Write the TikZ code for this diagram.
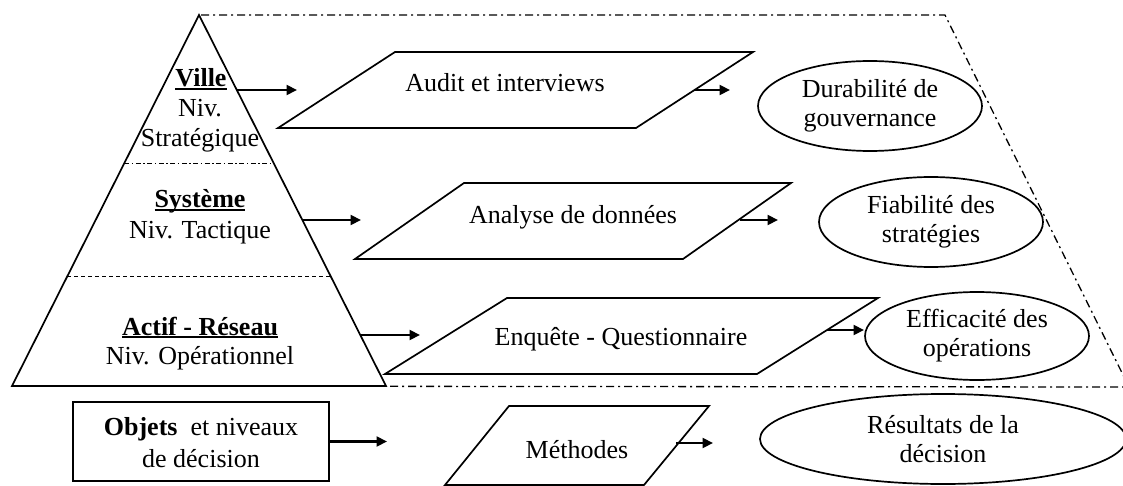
\documentclass[tikz,border=0pt]{standalone}
\usepackage{fontspec}
\setmainfont{Liberation Serif}
\usetikzlibrary{arrows.meta,shapes.geometric,calc}

% bold word with a heavy underline
\newsavebox\ulbox
\newcommand\ulbold[1]{\sbox\ulbox{\textbf{#1}}\rlap{\rule[-3.2pt]{\wd\ulbox}{1.9pt}}\usebox\ulbox}

\begin{document}
\begin{tikzpicture}[x=1pt,y=-1pt,
  every node/.style={font=\fontsize{26}{29}\selectfont, inner sep=0pt},
  lbl/.style={anchor=base},
  edge/.style={line width=1.7pt, line join=miter},
  frame/.style={line width=1.3pt, dash pattern=on 8pt off 4pt on 2pt off 4pt},
  finedashdot/.style={line width=0.9pt, dash pattern=on 5pt off 2.5pt on 1.5pt off 2.5pt},
  finedash/.style={line width=0.9pt, dash pattern=on 4pt off 3pt},
  result/.style={ellipse, draw, line width=1.7pt, align=center},
  link/.style={line width=2.1pt, -{Triangle[length=10.5pt,width=10pt]}}]

\useasboundingbox (0,0) rectangle (1123,486);
\fill[white] (0,0) rectangle (1123,486);

% ---- pyramid of decision levels
\coordinate (apex) at (199,15);
\coordinate (bl) at (12,386);
\coordinate (br) at (386,386);

% dash-dotted outline of the upper zone
\draw[frame] (bl) -- (1129,387) -- (945,15) -- (apex);

\draw[edge] (apex) -- (bl) -- (br) -- cycle;
\draw[finedashdot] ($(apex)!0.399!(bl)$) -- ($(apex)!0.399!(br)$);
\draw[finedash] ($(apex)!0.7035!(bl)$) -- ($(apex)!0.7035!(br)$);

\node[lbl] (ville1) at (201,87) {\ulbold{Ville}};
\node[lbl] (ville2) at (200,117) {Niv.};
\node[lbl] (ville3) at (200,147) {Stratégique};
\node[lbl] (sys1) at (200,208) {\ulbold{Système}};
\node[lbl] (sys2) at (200,239) {Niv. Tactique};
\node[lbl] (act1) at (200,335) {\ulbold{Actif - Réseau}};
\node[lbl] (act2) at (200,364) {Niv. Opérationnel};

% ---- legend box
\node[draw, line width=1.7pt, minimum width=256pt, minimum height=79pt] (obj) at (201,441.5) {};
\node[lbl] (obj1) at (201,435) {\textbf{Objets}\ \ et niveaux};
\node[lbl] (obj2) at (201,467) {de décision};

% ---- methods (parallelograms)
\coordinate (m1a) at (395,52);  \coordinate (m1b) at (753,52);
\coordinate (m1c) at (636,128); \coordinate (m1d) at (278,128);
\draw[edge] (m1a) -- (m1b) -- (m1c) -- (m1d) -- cycle;
\node[lbl] (audit) at (505,92) {Audit et interviews};

\coordinate (m2a) at (464,183); \coordinate (m2b) at (791,183);
\coordinate (m2c) at (683,259); \coordinate (m2d) at (355,259);
\draw[edge] (m2a) -- (m2b) -- (m2c) -- (m2d) -- cycle;
\node[lbl] (analyse) at (573,223) {Analyse de données};

\coordinate (m3a) at (507,298); \coordinate (m3b) at (878,298);
\coordinate (m3c) at (757,374); \coordinate (m3d) at (385,374);
\draw[edge] (m3a) -- (m3b) -- (m3c) -- (m3d) -- cycle;
\node[lbl] (enquete) at (621,345) {Enquête - Questionnaire};

\coordinate (m4a) at (509,406); \coordinate (m4b) at (709,406);
\coordinate (m4c) at (644,485); \coordinate (m4d) at (445,485);
\draw[edge] (m4a) -- (m4b) -- (m4c) -- (m4d) -- cycle;
\node[lbl] (methodes) at (577,458) {Méthodes};

% ---- results (ellipses)
\node[result, minimum width=224pt, minimum height=90pt] (dur) at (870,106) {Durabilité de\\gouvernance};
\node[result, minimum width=224pt, minimum height=90pt] (fia) at (931,222) {Fiabilité des\\stratégies};
\node[result, minimum width=224pt, minimum height=88pt] (eff) at (977,336) {Efficacité des\\opérations};
\node[result, minimum width=366pt, minimum height=90pt] (res) at (943,439) {Résultats de la\\décision};

% ---- arrows
\coordinate (ville-out) at (237,90);   \coordinate (audit-in) at (297,90);
\coordinate (audit-out) at (694,90);   \coordinate (dur-in) at (730,90);
\coordinate (sys-out) at (302,220);    \coordinate (analyse-in) at (361,220);
\coordinate (analyse-out) at (740,220);\coordinate (fia-in) at (778,220);
\coordinate (act-out) at (361,335);    \coordinate (enquete-in) at (420,335);
\coordinate (enquete-out) at (827,330);\coordinate (eff-in) at (864,330);
\coordinate (obj-in) at (387,441.5);
\coordinate (methodes-out) at (676,443);\coordinate (res-in) at (713,443);

\draw[link] (ville-out) -- (audit-in);
\draw[link] (audit-out) -- (dur-in);
\draw[link] (sys-out) -- (analyse-in);
\draw[link] (analyse-out) -- (fia-in);
\draw[link] (act-out) -- (enquete-in);
\draw[link] (enquete-out) -- (eff-in);
\draw[link] (obj.east) -- (obj-in);
\draw[link] (methodes-out) -- (res-in);
\end{tikzpicture}
\end{document}
